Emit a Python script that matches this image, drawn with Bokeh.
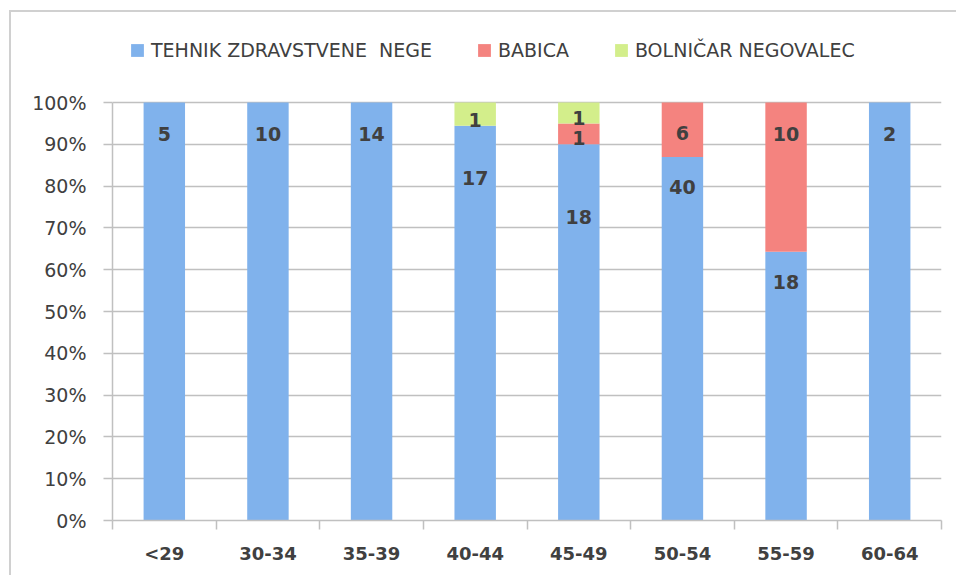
from bokeh.plotting import figure
from bokeh.models import (Range1d, FixedTicker, NumeralTickFormatter, Legend, LegendItem,
                          ColumnDataSource)
from bokeh.core.properties import value
from bokeh.embed import file_html
from bokeh.resources import INLINE

# ---- data ----
categories = ["<29", "30-34", "35-39", "40-44", "45-49", "50-54", "55-59", "60-64"]
tehnik = [5, 10, 14, 17, 18, 40, 18, 2]
babica = [0, 0, 0, 0, 1, 6, 10, 0]
bolnicar = [0, 0, 0, 1, 1, 0, 0, 0]
series_names = ["TEHNIK ZDRAVSTVENE  NEGE", "BABICA", "BOLNIČAR NEGOVALEC"]
y_ticks = [0.0, 0.1, 0.2, 0.3, 0.4, 0.5, 0.6, 0.7, 0.8, 0.9, 1.0]

# ---- style ----
colors = ["#80b2ec", "#f4837f", "#d3ee8b"]
# label centre distance (px) below each segment's top
label_offsets = [
    [31, 31, 31, 52, 73, 30, 30, 31],
    [0, 0, 0, 0, 15, 30, 31, 0],
    [0, 0, 0, 17, 15, 0, 0, 0],
]
FONT = "DejaVu Sans"
TXT = "#404040"
GRID = "#c0c0c0"
Y_TOP = 1.1914  # headroom above 100% that holds the legend

n = len(categories)
centers = [i + 0.5 for i in range(n)]
bounds = list(range(n + 1))

series = [tehnik, babica, bolnicar]
totals = [sum(v) for v in zip(*series)]
keys = ["s0", "s1", "s2"]
data = {"x": centers, "cat": categories}
for k, s in zip(keys, series):
    data[k] = [c / t for c, t in zip(s, totals)]
source = ColumnDataSource(data)

# labels
lx, ly, lt, lo = [], [], [], []
cum = [0.0] * n
for si, s in enumerate(series):
    for ci, c in enumerate(s):
        top = cum[ci] + c / totals[ci]
        if c > 0:
            lx.append(centers[ci])
            ly.append(top)
            lt.append(str(c))
            lo.append(label_offsets[si][ci])
        cum[ci] = top
lsrc = ColumnDataSource(dict(x=lx, y=ly, t=lt, o=lo))

p = figure(width=947, height=565, x_range=Range1d(0, n), y_range=Range1d(0, Y_TOP),
           output_backend="svg", toolbar_location=None,
           min_border_left=101, min_border_right=17,
           min_border_top=10, min_border_bottom=57, outline_line_color=None,
           border_fill_color="white", background_fill_color="white")
p.styles = {"border-top": "2px solid #d0d0d0", "border-left": "2px solid #d0d0d0",
            "border-right": "none", "border-bottom": "none",
            "margin-top": "10px", "margin-left": "9px"}

renderers = p.vbar_stack(keys, x="x", width=0.4, fill_color=colors, line_color=None,
                         source=source)

p.text(x="x", y="y", text="t", y_offset="o", source=lsrc, text_align="center",
       text_baseline="middle", text_font=value(FONT), text_font_style="bold",
       text_font_size="19px", text_color=TXT)

p.xgrid.visible = False
p.ygrid.grid_line_color = GRID
p.ygrid.grid_line_width = 1.5
p.ygrid.ticker = FixedTicker(ticks=y_ticks)

ya = p.yaxis[0]
ya.ticker = FixedTicker(ticks=y_ticks)
ya.bounds = (0, 1)
ya.formatter = NumeralTickFormatter(format="0%")
ya.major_tick_in = 0
ya.major_tick_out = 9
ya.minor_tick_line_color = None
ya.axis_line_color = GRID
ya.axis_line_width = 1.5
ya.major_tick_line_color = GRID
ya.major_tick_line_width = 1.5
ya.major_label_standoff = 17
ya.major_label_text_font = FONT
ya.major_label_text_font_size = "19px"
ya.major_label_text_color = TXT

xa = p.xaxis[0]
xa.ticker = FixedTicker(ticks=centers, minor_ticks=bounds)
xa.major_label_overrides = {c: lab for c, lab in zip(centers, categories)}
xa.major_tick_line_color = None
xa.major_tick_in = 0
xa.major_tick_out = 9
xa.minor_tick_in = 0
xa.minor_tick_out = 9
xa.minor_tick_line_color = GRID
xa.minor_tick_line_width = 1.5
xa.axis_line_color = GRID
xa.axis_line_width = 1.5
xa.major_label_standoff = 13
xa.major_label_text_font = FONT
xa.major_label_text_font_style = "bold"
xa.major_label_text_font_size = "18px"
xa.major_label_text_color = TXT

legend = Legend(items=[LegendItem(label=nm, renderers=[r]) for nm, r in zip(series_names, renderers)],
                orientation="horizontal", location=(17, 459), glyph_width=16, glyph_height=16,
                label_standoff=6, spacing=44, padding=0, margin=0,
                border_line_color=None, background_fill_alpha=0,
                label_text_font=FONT, label_text_font_size="19px", label_text_color=TXT)
p.add_layout(legend)

open("out.html", "w").write(file_html(p, INLINE))
